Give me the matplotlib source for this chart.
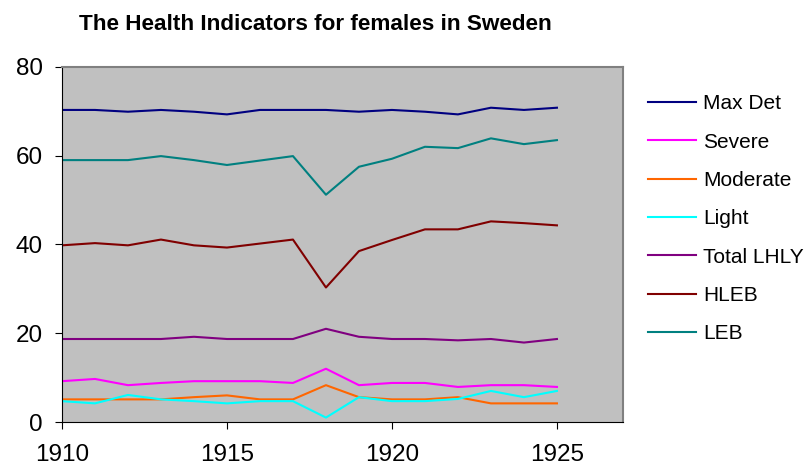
import matplotlib.pyplot as plt

plt.rcParams['font.family'] = ['Liberation Sans', 'DejaVu Sans']

years = list(range(1910, 1926))
max_det = [70.3, 70.3, 69.9, 70.3, 69.9, 69.3, 70.3, 70.3, 70.3, 69.9, 70.3, 69.9, 69.3, 70.8, 70.3, 70.8]
severe = [9.2, 9.7, 8.3, 8.8, 9.2, 9.2, 9.2, 8.8, 12.0, 8.3, 8.8, 8.8, 7.9, 8.3, 8.3, 7.9]
moderate = [5.1, 5.1, 5.1, 5.1, 5.6, 6.0, 5.1, 5.1, 8.3, 5.6, 5.1, 5.1, 5.6, 4.2, 4.2, 4.2]
light = [4.7, 4.2, 6.1, 5.1, 4.7, 4.2, 4.7, 4.7, 1.0, 5.6, 4.7, 4.7, 5.2, 7.0, 5.6, 7.0]
total_lhly = [18.7, 18.7, 18.7, 18.7, 19.2, 18.7, 18.7, 18.7, 21.0, 19.2, 18.7, 18.7, 18.4, 18.7, 17.9, 18.7]
hleb = [39.8, 40.3, 39.8, 41.1, 39.8, 39.3, 40.2, 41.1, 30.3, 38.5, 41.0, 43.4, 43.4, 45.2, 44.8, 44.3]
leb = [59.0, 59.0, 59.0, 59.9, 59.0, 57.9, 58.9, 59.9, 51.2, 57.5, 59.3, 62.0, 61.7, 63.9, 62.6, 63.5]

series = [
    ("Max Det", max_det, "#000080"),
    ("Severe", severe, "#FF00FF"),
    ("Moderate", moderate, "#FF6600"),
    ("Light", light, "#00FFFF"),
    ("Total LHLY", total_lhly, "#800080"),
    ("HLEB", hleb, "#800000"),
    ("LEB", leb, "#008080"),
]

fig = plt.figure(figsize=(8.09, 4.71), dpi=100)
ax = fig.add_axes([0.0766, 0.104, 0.6934, 0.754])
ax.set_facecolor("#C0C0C0")

for name, vals, col in series:
    ax.plot(years, vals, color=col, lw=1.5, label=name)

ax.set_xlim(1910, 1927)
ax.set_ylim(0, 80)
ax.set_xticks([1910, 1915, 1920, 1925])
ax.set_yticks([0, 20, 40, 60, 80])
ax.tick_params(direction="out", length=5, labelsize=17.5, colors="black")
ax.tick_params(axis="x", pad=11)
ax.tick_params(axis="y", pad=9)
ax.spines["top"].set_color("#808080")
ax.spines["right"].set_color("#808080")
ax.spines["top"].set_linewidth(1.5)
ax.spines["right"].set_linewidth(1.5)

fig.text(0.39, 0.947, "The Health Indicators for females in Sweden",
         ha="center", va="center", fontsize=16.2, fontweight="bold")

fig.legend(loc="upper left", bbox_to_anchor=(0.801, 0.8), frameon=False,
           fontsize=15, handlelength=2.3, labelspacing=0.93, handletextpad=0.35,
           borderpad=0, borderaxespad=0)

fig.savefig("out.png", dpi=100)
